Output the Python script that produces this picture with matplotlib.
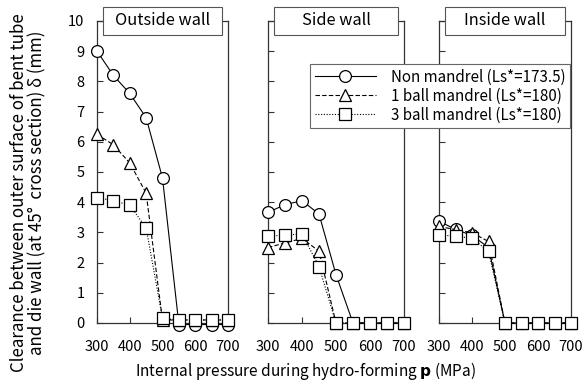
import matplotlib
matplotlib.use('Agg')
from matplotlib import pyplot as plt
from matplotlib.patches import Rectangle
import numpy as np

plt.rcParams['font.family'] = ['Noto Sans CJK JP', 'DejaVu Sans']

# internal pressure p (MPa)
pressure = [300, 350, 400, 450, 500, 550, 600, 650, 700]

panel_titles = ['Outside wall', 'Side wall', 'Inside wall']
series_labels = ['Non mandrel (Ls*=173.5)', '1 ball mandrel (Ls*=180)', '3 ball mandrel (Ls*=180)']

# clearance delta (mm)
outside_non = [9.0, 8.2, 7.6, 6.8, 4.8, -0.05, -0.05, -0.05, -0.05]
outside_1ball = [6.25, 5.9, 5.3, 4.3, 0.1, 0.1, 0.1, 0.1, 0.1]
outside_3ball = [4.15, 4.05, 3.9, 3.15, 0.15, 0.1, 0.1, 0.1, 0.1]

side_non = [3.66, 3.92, 4.05, 3.61, 1.6, 0.0, 0.0, 0.0, 0.0]
side_1ball = [2.5, 2.65, 2.8, 2.38, 0.0, 0.0, 0.0, 0.0, 0.0]
side_3ball = [2.87, 2.91, 2.95, 1.87, 0.0, 0.0, 0.0, 0.0, 0.0]

inside_non = [3.37, 3.1, 2.9, 2.5, 0.0, 0.0, 0.0, 0.0, 0.0]
inside_1ball = [3.2, 3.09, 2.99, 2.7, 0.0, 0.0, 0.0, 0.0, 0.0]
inside_3ball = [2.92, 2.87, 2.81, 2.37, 0.0, 0.0, 0.0, 0.0, 0.0]

panels = [
    [outside_non, outside_1ball, outside_3ball],
    [side_non, side_1ball, side_3ball],
    [inside_non, inside_1ball, inside_3ball],
]

styles = [
    dict(ls='-', marker='o', ms=8.5),
    dict(ls=(0, (4, 2)), marker='^', ms=8.0),
    dict(ls=(0, (1, 1.5)), marker='s', ms=8.3),
]

fig = plt.figure(figsize=(5.88, 3.85), dpi=100)
W, H = 588.0, 385.0
lefts = [97, 268, 439]
rights = [228, 404, 571]
top, bottom = 21, 323

axes = []
for i in range(3):
    ax = fig.add_axes([lefts[i] / W, 1 - bottom / H, (rights[i] - lefts[i]) / W, (bottom - top) / H])
    axes.append(ax)
    for j in range(3):
        st = styles[j]
        ax.plot(pressure, panels[i][j], color='black', lw=0.8, ls=st['ls'],
                marker=st['marker'], ms=st['ms'], mfc='white', mec='black', mew=0.9,
                clip_on=False, zorder=3 + j, label=series_labels[j])
    ax.set_xlim(300, 700)
    ax.set_ylim(0, 10)
    ax.set_xticks([300, 400, 500, 600, 700])
    ax.set_yticks(np.arange(0, 11, 1))
    ax.tick_params(direction='in', length=4, width=0.8, labelsize=10.5, colors='#333333',
                   labelcolor='black')
    ax.tick_params(axis='x', pad=12)
    ax.tick_params(axis='y', pad=9)
    if i > 0:
        ax.set_yticklabels([])
    for s in ax.spines.values():
        s.set_linewidth(0.9)
        s.set_color('#333333')
    # panel name box sitting on the top spine
    ax.add_patch(Rectangle((0.045, 0.953), 0.91, 0.094, transform=ax.transAxes,
                           fc='white', ec='#555555', lw=0.8, clip_on=False, zorder=10))
    ax.text(0.5, 1.0, panel_titles[i], transform=ax.transAxes, ha='center', va='center',
            fontsize=11.8, zorder=11)

handles, labels = axes[0].get_legend_handles_labels()
leg = fig.legend(handles, labels, loc='upper right', bbox_to_anchor=(0.982, 0.853),
                 fontsize=10.9, handlelength=4.0, handletextpad=1.0, borderpad=0.3,
                 labelspacing=0.12, frameon=True, fancybox=False, framealpha=1)
leg.get_frame().set_edgecolor('#666666')
leg.get_frame().set_linewidth(0.8)

fig.text(0.519, 0.036, r'Internal pressure during hydro-forming $\mathbf{p}$ (MPa)',
         ha='center', va='center', fontsize=11.1)
fig.text(0.048, 0.5, 'Clearance between outer surface of bent tube\nand die wall (at 45°  cross section) δ (mm)',
         ha='center', va='center', rotation=90, fontsize=12.2, linespacing=1.05)

fig.savefig('out.png', dpi=100)
